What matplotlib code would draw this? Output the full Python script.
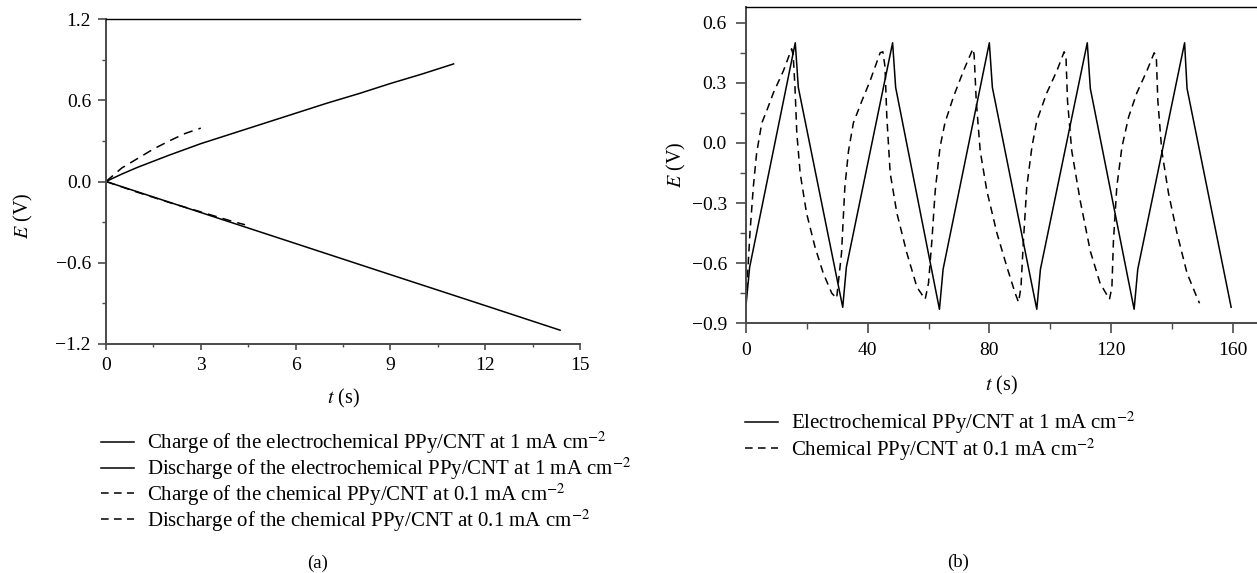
import matplotlib
matplotlib.use("Agg")
import matplotlib.pyplot as plt
from matplotlib.lines import Line2D
from matplotlib.ticker import MultipleLocator

plt.rcParams['font.family'] = ['Liberation Serif', 'DejaVu Serif']
plt.rcParams['mathtext.fontset'] = 'stix'

# ---------------- data: panel (a) ----------------
t_ec_charge = [0, 0.5, 1, 2, 3, 4, 5, 6, 7, 8, 9, 10, 11]
E_ec_charge = [0, 0.055, 0.105, 0.195, 0.28, 0.355, 0.43, 0.505, 0.58, 0.65, 0.725, 0.795, 0.87]

t_ec_discharge = [0, 2, 5.4, 9, 12, 14.37]
E_ec_discharge = [0, -0.153, -0.413, -0.689, -0.918, -1.10]

t_ch_charge = [0, 0.25, 0.5, 1, 1.5, 2, 2.5, 3.0]
E_ch_charge = [0, 0.05, 0.10, 0.17, 0.24, 0.30, 0.355, 0.395]

t_ch_discharge = [0, 1, 2, 3, 4, 4.4]
E_ch_discharge = [0, -0.08, -0.155, -0.225, -0.295, -0.32]

# ---------------- data: panel (b) ----------------
t_ec_cycle = [0, 1.2, 16.2, 17.2, 31.8, 33.0, 48.2, 49.2, 63.6, 64.8, 80.0, 81.0,
              95.6, 96.8, 112.2, 113.2, 127.6, 128.8, 144.2, 145.0, 159.5]
E_ec_cycle = [-0.81, -0.62, 0.50, 0.277, -0.82, -0.62, 0.50, 0.277, -0.83, -0.63, 0.50, 0.277,
              -0.83, -0.63, 0.50, 0.272, -0.83, -0.63, 0.50, 0.272, -0.82]

t_ch_cycle = [0, 0.2, 1.3, 2.4, 3.5, 5.2, 6.8, 9.0, 12.3, 15.0,
              15.5, 16.1, 16.7, 17.8, 19.9, 22.7, 25.4, 28.2, 29.8,
              31.4, 32.5, 33.7, 35.3, 38.1, 40.8, 44.1, 45.0,
              45.7, 46.3, 47.4, 49.6, 52.9, 56.2, 58.9,
              60.0, 61.1, 62.2, 63.8, 65.4, 68.2, 71.5, 74.6,
              75.0, 75.7, 77.0, 79.2, 82.5, 85.8, 88.5, 89.6,
              90.4, 91.2, 92.3, 94.0, 95.6, 98.9, 102.2, 104.6,
              105.2, 105.7, 107.1, 109.9, 113.2, 116.4, 119.5,
              120.3, 120.8, 121.9, 123.6, 125.8, 128.5, 131.8, 134.2,
              134.9, 135.4, 136.7, 138.9, 141.7, 145.0, 147.7, 149.1]
E_ch_cycle = [-0.80, -0.74, -0.45, -0.22, -0.05, 0.10, 0.16, 0.25, 0.36, 0.47,
              0.44, 0.28, 0.05, -0.15, -0.35, -0.52, -0.65, -0.75, -0.775,
              -0.55, -0.22, -0.04, 0.10, 0.21, 0.31, 0.45, 0.455,
              0.38, 0.13, -0.15, -0.35, -0.55, -0.72, -0.78,
              -0.70, -0.49, -0.24, -0.02, 0.10, 0.23, 0.36, 0.47,
              0.44, 0.21, -0.04, -0.24, -0.45, -0.62, -0.75, -0.795,
              -0.72, -0.49, -0.22, -0.02, 0.11, 0.25, 0.36, 0.455,
              0.43, 0.21, -0.04, -0.29, -0.54, -0.70, -0.78,
              -0.72, -0.49, -0.22, -0.02, 0.13, 0.25, 0.36, 0.45,
              0.43, 0.21, -0.04, -0.25, -0.45, -0.65, -0.75, -0.80]

a_xticks = [0, 3, 6, 9, 12, 15]
a_yticks = [-1.2, -0.6, 0.0, 0.6, 1.2]
a_yticklabels = ['\u22121.2', '\u22120.6', '0.0', '0.6', '1.2']
b_xticks = [0, 40, 80, 120, 160]
b_yticks = [-0.9, -0.6, -0.3, 0.0, 0.3, 0.6]
b_yticklabels = ['\u22120.9', '\u22120.6', '\u22120.3', '0.0', '0.3', '0.6']

labels_a = [r"Charge of the electrochemical PPy/CNT at 1 mA cm$^{-2}$",
            r"Discharge of the electrochemical PPy/CNT at 1 mA cm$^{-2}$",
            r"Charge of the chemical PPy/CNT at 0.1 mA cm$^{-2}$",
            r"Discharge of the chemical PPy/CNT at 0.1 mA cm$^{-2}$"]
labels_b = [r"Electrochemical PPy/CNT at 1 mA cm$^{-2}$",
            r"Chemical PPy/CNT at 0.1 mA cm$^{-2}$"]

W, H = 1257, 573
fig = plt.figure(figsize=(W / 100, H / 100), dpi=100)

FS_TICK = 14
FS_LAB = 14.5
FS_LEG = 15
SPINE_C = '#4a4a4a'


def px_axes(l, r, t, b):
    return fig.add_axes([l / W, 1 - b / H, (r - l) / W, (b - t) / H])


def style(ax, ylen, ypad, xlen, xpad):
    ax.spines['right'].set_visible(False)
    ax.spines['top'].set_color('black')
    ax.spines['top'].set_linewidth(1.0)
    for s in ('left', 'bottom'):
        ax.spines[s].set_color(SPINE_C)
        ax.spines[s].set_linewidth(1.4)
    ax.tick_params(axis='y', which='major', direction='out', length=ylen, width=1.2,
                   color=SPINE_C, labelsize=FS_TICK, pad=ypad)
    ax.tick_params(axis='x', which='major', direction='out', length=xlen, width=1.2,
                   color=SPINE_C, labelsize=FS_TICK, pad=xpad)
    ax.tick_params(axis='y', which='minor', direction='out', length=ylen * 0.55, width=1.0,
                   color=SPINE_C)
    ax.tick_params(axis='x', which='minor', direction='out', length=xlen * 0.55, width=1.0,
                   color=SPINE_C)
    ax.tick_params(top=False, right=False, which='both')


dash_a = (0, (6, 4))
dash_b = (0, (5, 3.5))
LW = 1.1

# ---------------- panel (a) ----------------
axa = px_axes(106, 580, 19.3, 343.7)
axa.plot(t_ec_charge, E_ec_charge, color='black', lw=LW)
axa.plot(t_ec_discharge, E_ec_discharge, color='black', lw=LW)
axa.plot(t_ch_charge, E_ch_charge, color='black', lw=LW, linestyle=dash_a)
axa.plot(t_ch_discharge, E_ch_discharge, color='black', lw=LW, linestyle=dash_a)
axa.set_xlim(0, 15)
axa.set_ylim(-1.2, 1.2)
axa.set_xticks(a_xticks)
axa.set_yticks(a_yticks)
axa.set_yticklabels(a_yticklabels)
axa.xaxis.set_minor_locator(MultipleLocator(1.5))
axa.yaxis.set_minor_locator(MultipleLocator(0.3))
style(axa, ylen=5.8, ypad=5, xlen=4.5, xpad=5)
axa.set_xlabel(r"$t$ (s)", fontsize=FS_LAB)
axa.set_ylabel(r"$E$ (V)", fontsize=FS_LAB)
axa.xaxis.set_label_coords(0.5, (343.7 - 387) / 324.4)
axa.yaxis.set_label_coords((35 - 106) / 474, (343.7 - 216) / 324.4)

handles_a = [Line2D([], [], color='black', lw=LW),
             Line2D([], [], color='black', lw=LW),
             Line2D([], [], color='black', lw=LW, linestyle=(0, (5, 3.5))),
             Line2D([], [], color='black', lw=LW, linestyle=(0, (5, 3.5)))]
fig.legend(handles_a, labels_a, loc='upper left', bbox_to_anchor=(101 / W, 1 - 430 / H),
           frameon=False, fontsize=FS_LEG, handlelength=1.6, handletextpad=0.62,
           labelspacing=-0.03, borderpad=0, borderaxespad=0)

# ---------------- panel (b) ----------------
axb = px_axes(746, 1257, 6.7, 323.3)
axb.plot(t_ec_cycle, E_ec_cycle, color='black', lw=LW)
axb.plot(t_ch_cycle, E_ch_cycle, color='black', lw=LW, linestyle=dash_b)
axb.set_xlim(0, 168)
axb.set_ylim(-0.9, 0.68)
axb.set_xticks(b_xticks)
axb.xaxis.set_minor_locator(MultipleLocator(20))
axb.set_yticks(b_yticks)
axb.set_yticklabels(b_yticklabels)
axb.yaxis.set_minor_locator(MultipleLocator(0.15))
style(axb, ylen=7.2, ypad=6.5, xlen=7.2, xpad=6.5)
axb.set_xlabel(r"$t$ (s)", fontsize=FS_LAB)
axb.set_ylabel(r"$E$ (V)", fontsize=FS_LAB)
axb.xaxis.set_label_coords((1001 - 746) / 511, (323.3 - 374) / 316.6)
axb.yaxis.set_label_coords((688 - 746) / 511, 0.5)

handles_b = [Line2D([], [], color='black', lw=LW),
             Line2D([], [], color='black', lw=LW, linestyle=(0, (5, 3.5)))]
fig.legend(handles_b, labels_b, loc='upper left', bbox_to_anchor=(745 / W, 1 - 410 / H),
           frameon=False, fontsize=FS_LEG, handlelength=1.6, handletextpad=0.62,
           labelspacing=0.0, borderpad=0, borderaxespad=0)

fig.text(318 / W, 1 - 563 / H, "(a)", ha='center', va='center', fontsize=13.5)
fig.text(958 / W, 1 - 562 / H, "(b)", ha='center', va='center', fontsize=13.5)

fig.savefig("out.png", dpi=100)
